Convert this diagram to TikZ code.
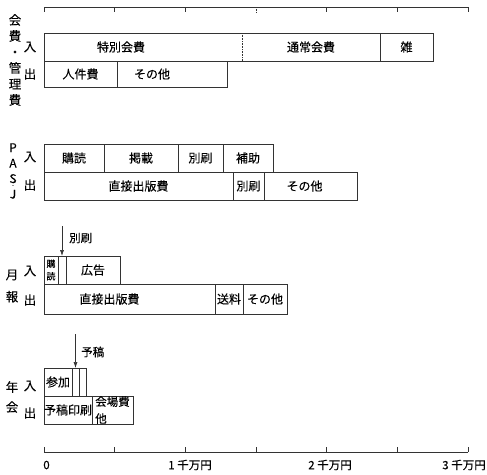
\documentclass[tikz,border=0pt]{standalone}
\usepackage{fontspec}
\setmainfont{Noto Sans CJK JP}[FakeBold=0.12]
\usetikzlibrary{positioning,arrows.meta}
\tikzset{%
  cell/.style    = {shape=rectangle, draw=black!80, line width=0.6pt,%
                    anchor=north west, inner sep=0pt, outer sep=0pt,%
                    minimum height=28pt, font=\fontsize{12}{14}\selectfont},%
  edge/.style    = {draw=black!80, line width=0.6pt},%
  side/.style    = {align=center, inner sep=0pt, font=\fontsize{12.5}{16}\selectfont},%
  io/.style      = {inner sep=0pt, font=\fontsize{12.5}{14}\selectfont},%
  note/.style    = {anchor=west, inner sep=0pt, font=\fontsize{11.5}{13}\selectfont},%
  pointer/.style = {edge, -{Latex[length=6pt,width=4pt]}},%
  amount/.style  = {inner sep=0pt, font=\fontsize{11.5}{13}\selectfont}%
}
\begin{document}
\begin{tikzpicture}[x=1pt,y=-1pt]
	\useasboundingbox[fill=white] (0,0) rectangle (487,474);
	% rulers, one tick per half 千万円
	\draw[edge] (44,7) -- (468,7);%
	\draw[edge] (44,452) -- (468,452);%
	\foreach \i in {0,1,2,4,5,6}{%
		\draw[edge] (44+\i*70.667,7) -- (44+\i*70.667,12);%
		\draw[edge] (44+\i*70.667,452) -- (44+\i*70.667,447);}%
	\draw[edge,densely dotted] (256,7) -- (256,12);%
	\draw[edge] (256,452) -- (256,447);%
	\node[amount] (zero)  at (46.5,465) {0};%
	\node[amount] (one)   at (190,465)  {1 千万円};%
	\node[amount] (two)   at (330,465)  {2 千万円};%
	\node[amount] (three) at (464,465)  {3 千万円};%
	% 会費・管理費
	\node[side] (kh-name) at (15,60) {会\\費\\・\\管\\理\\費};%
	\node[io] (kh-in)  at (30,47) {入};%
	\node[io] (kh-out) at (30,74) {出};%
	\node[cell, draw=none, minimum width=198pt] (kh-toku) at (44,33) {特別会費\hspace*{44pt}};%
	\node[cell, draw=none, minimum width=138pt, right=0pt of kh-toku] (kh-tsujo) {通常会費};%
	\node[cell, minimum width=53pt, right=0pt of kh-tsujo] (kh-zatsu) {雑};%
	\draw[edge] (kh-toku.north west) rectangle (kh-tsujo.south east);%
	\draw[edge, densely dotted] (kh-toku.north east) -- (kh-toku.south east);%
	\node[cell, minimum height=26pt, minimum width=73pt] (kh-jinken) at (44,61) {人件費};%
	\node[cell, minimum height=26pt, minimum width=110pt, right=0pt of kh-jinken] (kh-sonota) {その他\hspace*{40pt}};%
	% PASJ
	\node[side, font=\fontsize{12}{15.5}\selectfont] (pj-name) at (13,171) {P\\A\\S\\J};%
	\node[inner sep=0pt, font=\fontsize{5}{5}\selectfont] (pj-dot) at (13,185.5) {.};%
	\node[io] (pj-in)  at (30,157) {入};%
	\node[io] (pj-out) at (30,185) {出};%
	\node[cell, minimum width=60pt] (pj-kodoku) at (44,144) {購読};%
	\node[cell, minimum width=74pt, right=0pt of pj-kodoku] (pj-keisai) {掲載};%
	\node[cell, minimum width=45pt, right=0pt of pj-keisai] (pj-bessatsu) {別刷};%
	\node[cell, minimum width=50pt, right=0pt of pj-bessatsu] (pj-hojo) {補助};%
	\node[cell, minimum width=189pt] (pj-chokusetsu) at (44,172) {直接出版費};%
	\node[cell, minimum width=31pt, right=0pt of pj-chokusetsu] (pj-bessatsu2) {別刷};%
	\node[cell, minimum width=93pt, right=0pt of pj-bessatsu2] (pj-sonota) {その他\hspace*{12pt}};%
	% 月報
	\node[side, font=\fontsize{12.5}{22}\selectfont] (gh-name) at (12,286) {月\\報};%
	\node[io] (gh-in)  at (30,271) {入};%
	\node[io] (gh-out) at (30,300) {出};%
	\node[cell, minimum width=14pt, align=center, font=\fontsize{9}{12.5}\selectfont] (gh-kodoku) at (44,256) {購\\読};%
	\node[cell, minimum width=8pt, right=0pt of gh-kodoku] (gh-bessatsu) {};%
	\node[cell, minimum width=54pt, right=0pt of gh-bessatsu] (gh-kokoku) {広告};%
	\node[cell, minimum height=30pt, minimum width=171pt] (gh-chokusetsu) at (44,284) {直接出版費\hspace*{40pt}};%
	\node[cell, minimum height=30pt, minimum width=28pt, right=0pt of gh-chokusetsu] (gh-soryo) {送料};%
	\node[cell, minimum height=30pt, minimum width=44pt, right=0pt of gh-soryo] (gh-sonota) {その他};%
	\coordinate (gh-from) at (62,226);%
	\draw[pointer] (gh-from) -- (gh-bessatsu.north);%
	\node[note] (gh-note) at (69,238) {別刷};%
	% 年会
	\node[side, font=\fontsize{12.5}{20}\selectfont] (nk-name) at (12,397) {年\\会};%
	\node[io] (nk-in)  at (30,386) {入};%
	\node[io] (nk-out) at (30,413) {出};%
	\node[cell, minimum width=28pt] (nk-sanka) at (44,368) {参加};%
	\node[cell, minimum width=7pt, right=0pt of nk-sanka] (nk-yoko) {};%
	\node[cell, minimum width=7pt, right=0pt of nk-yoko] (nk-yoko2) {};%
	\node[cell, minimum width=48pt] (nk-insatsu) at (44,396) {予稿印刷};%
	\node[cell, minimum width=41pt, align=left, font=\fontsize{11.5}{17}\selectfont, right=0pt of nk-insatsu] (nk-kaijo) {会場費\\他};%
	\coordinate (nk-from) at (75.5,334);%
	\draw[pointer] (nk-from) -- (nk-yoko.north);%
	\node[note] (nk-note) at (81,352) {予稿};%
\end{tikzpicture}
\end{document}
